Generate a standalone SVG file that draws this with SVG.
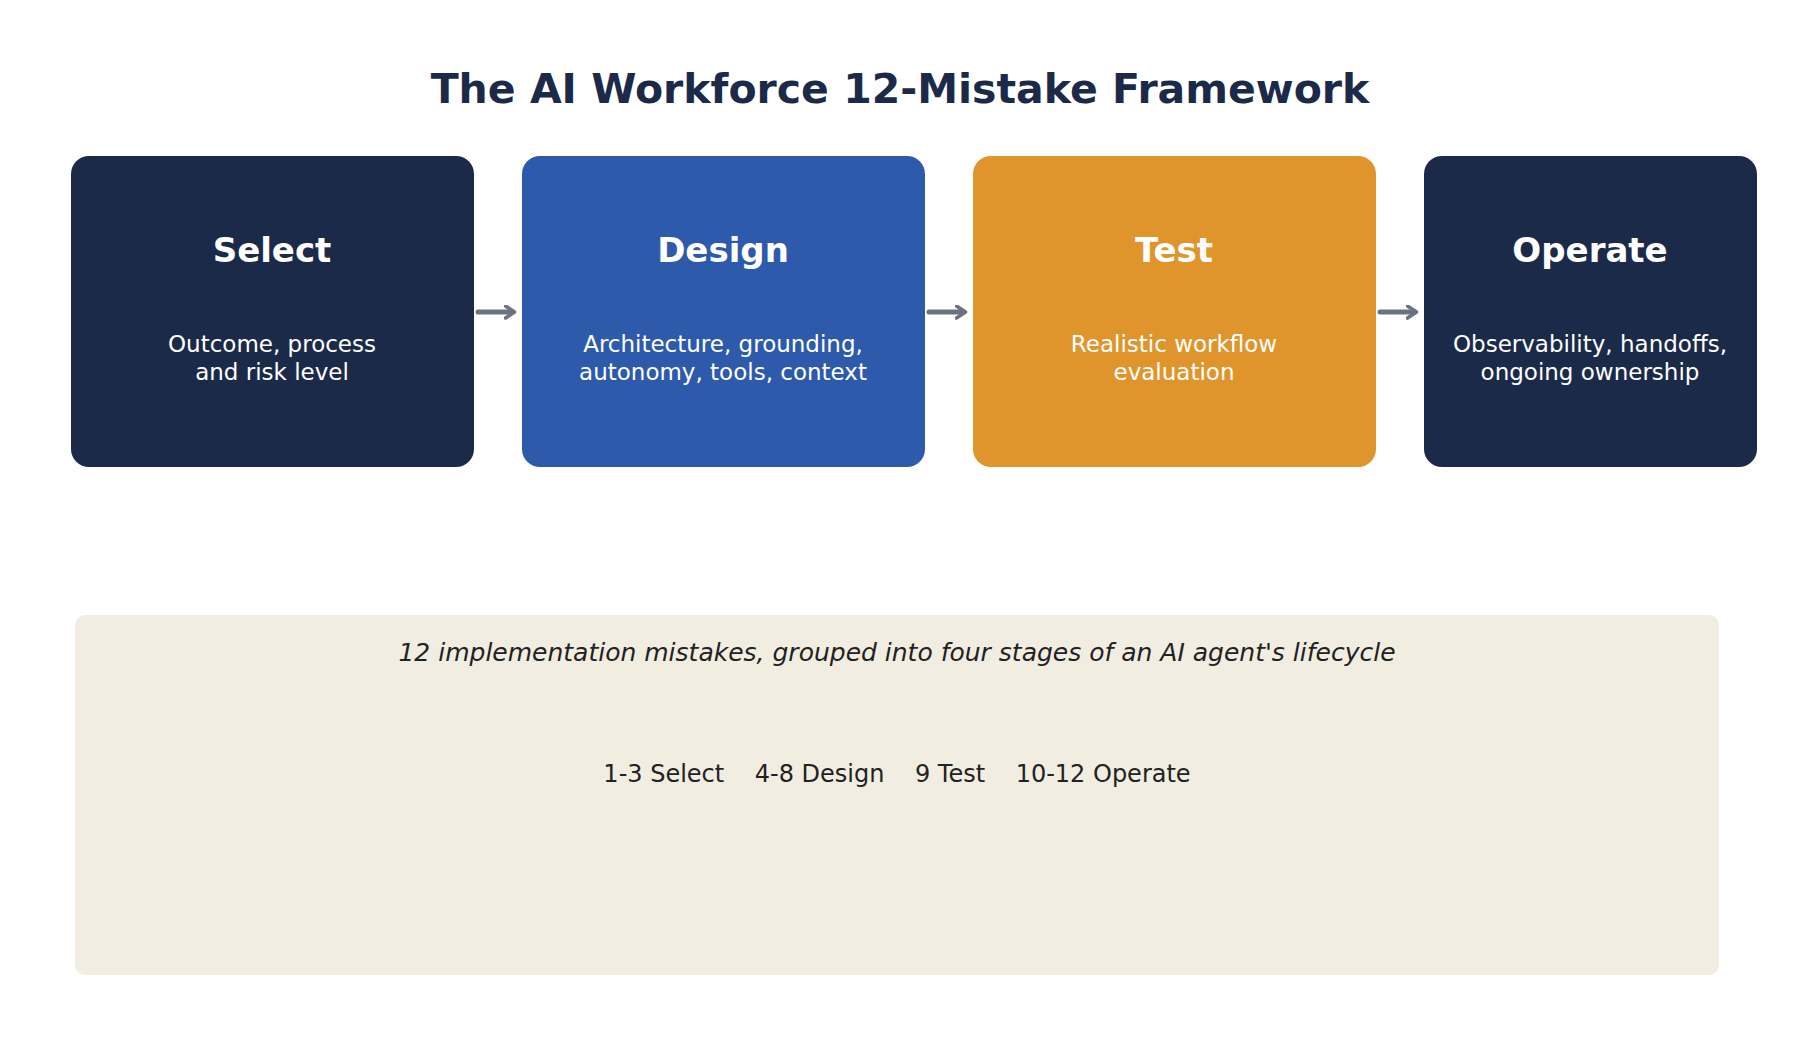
<svg xmlns="http://www.w3.org/2000/svg" width="1800" height="1040" viewBox="0 0 1800 1040">
<style>
text{font-family:"DejaVu Sans","Noto Sans",sans-serif;text-anchor:middle}
.h{font-size:34px;font-weight:bold;fill:#fff}
.b{font-size:23px;fill:#fff}
.c{stroke:#6b7280;stroke-width:5;fill:none;stroke-linecap:round}
</style>
<defs><marker id="a" viewBox="0 0 10 10" refX="6" refY="5" markerWidth="3" markerHeight="3" orient="auto"><path d="M1,1 L7,5 L1,9" fill="none" stroke="#6b7280" stroke-width="2.4" stroke-linecap="round" stroke-linejoin="round"/></marker></defs>
<rect width="1800" height="1040" fill="#fff"/>
<text x="900" y="103" style="font-size:41px;font-weight:bold;fill:#1c2a4a">The AI Workforce 12-Mistake Framework</text>
<g id="select"><rect x="71" y="156" width="403" height="311" rx="18" fill="#1c2a4a"/><text class="h" x="272" y="262">Select</text><text class="b" x="272" y="352">Outcome, process</text><text class="b" x="272" y="380">and risk level</text></g>
<g id="design"><rect x="522" y="156" width="403" height="311" rx="18" fill="#2d5aab"/><text class="h" x="723" y="262">Design</text><text class="b" x="723" y="352">Architecture, grounding,</text><text class="b" x="723" y="380">autonomy, tools, context</text></g>
<g id="test"><rect x="973" y="156" width="403" height="311" rx="18" fill="#df952c"/><text class="h" x="1174" y="262">Test</text><text class="b" x="1174" y="352">Realistic workflow</text><text class="b" x="1174" y="380">evaluation</text></g>
<g id="operate"><rect x="1424" y="156" width="333" height="311" rx="18" fill="#1c2a4a"/><text class="h" x="1590" y="262">Operate</text><text class="b" x="1590" y="352">Observability, handoffs,</text><text class="b" x="1590" y="380">ongoing ownership</text></g>
<g id="connectors">
<path class="c" d="M478,312 H513" marker-end="url(#a)"/>
<path class="c" d="M929,312 H964" marker-end="url(#a)"/>
<path class="c" d="M1380,312 H1415" marker-end="url(#a)"/>
</g>
<g id="legend"><rect x="75" y="615" width="1644" height="360" rx="10" fill="#f1ede1"/>
<text x="897" y="661" style="font-size:25px;font-style:italic;fill:#222">12 implementation mistakes, grouped into four stages of an AI agent's lifecycle</text>
<text x="897" y="782" style="font-size:24px;fill:#222;white-space:pre" xml:space="preserve">1-3 Select    4-8 Design    9 Test    10-12 Operate</text></g>
</svg>
